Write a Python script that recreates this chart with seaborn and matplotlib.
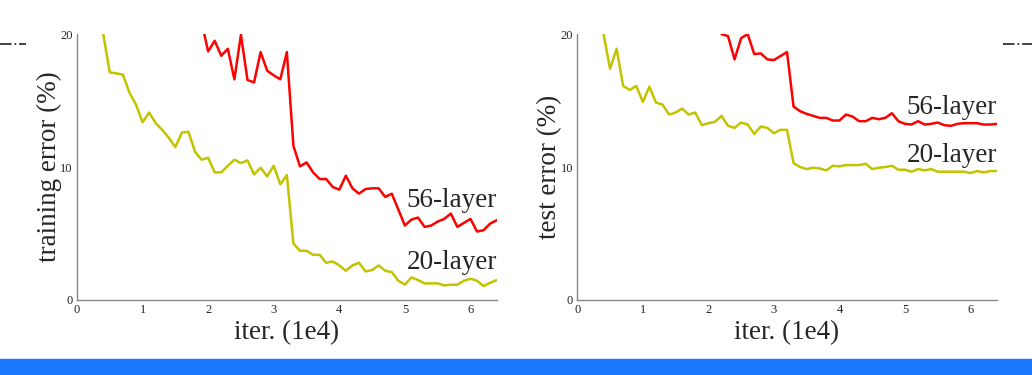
import numpy as np
import pandas as pd
import matplotlib
matplotlib.use("Agg")
import matplotlib.pyplot as plt
import seaborn as sns
from matplotlib.lines import Line2D
from matplotlib.patches import Rectangle

# Training error (%), one point every 1e3 iterations
train_x20 = np.round(np.arange(0.4, 6.41, 0.1), 1)
train_20 = [20.0, 17.12, 17.05, 16.95, 15.6, 14.7, 13.37, 14.1, 13.3, 12.8,
            12.2, 11.5, 12.6, 12.65, 11.15, 10.55, 10.7, 9.6, 9.6, 10.1,
            10.55, 10.3, 10.5, 9.45, 9.95, 9.3, 10.1, 8.7, 9.4, 4.25,
            3.7, 3.7, 3.4, 3.4, 2.8, 2.9, 2.6, 2.2, 2.6, 2.8,
            2.15, 2.25, 2.6, 2.2, 2.1, 1.45, 1.15, 1.7, 1.5, 1.25,
            1.25, 1.25, 1.1, 1.15, 1.15, 1.45, 1.6, 1.45, 1.05, 1.3, 1.5]
train_x56 = np.round(np.arange(1.9, 6.41, 0.1), 1)
train_56 = [20.9, 18.7, 19.5, 18.37, 18.9, 16.6, 19.95, 16.55, 16.37, 18.65,
            17.25, 16.9, 16.6, 18.65, 11.6, 10.05, 10.35, 9.6, 9.1, 9.1,
            8.5, 8.3, 9.35, 8.4, 8.0, 8.35, 8.4, 8.4, 7.75, 8.0,
            6.8, 5.6, 6.05, 6.2, 5.5, 5.6, 5.9, 6.1, 6.5, 5.5,
            5.8, 6.1, 5.15, 5.25, 5.75, 6.0]

# Test error (%)
test_x20 = np.round(np.arange(0.4, 6.41, 0.1), 1)
test_20 = [20.0, 17.4, 18.9, 16.1, 15.8, 16.1, 14.9, 16.05, 14.85, 14.7,
           13.95, 14.1, 14.4, 13.95, 14.1, 13.15, 13.3, 13.4, 13.85, 13.1,
           12.95, 13.35, 13.2, 12.5, 13.05, 12.95, 12.55, 12.8, 12.8, 10.3,
           10.0, 9.85, 9.95, 9.9, 9.75, 10.1, 10.05, 10.15, 10.15, 10.15,
           10.25, 9.85, 9.95, 10.0, 10.1, 9.8, 9.8, 9.65, 9.85, 9.75,
           9.85, 9.65, 9.65, 9.65, 9.65, 9.65, 9.55, 9.7, 9.6, 9.7, 9.7]
test_x56 = np.round(np.arange(2.2, 6.41, 0.1), 1)
test_56 = [20.0, 19.85, 18.1, 19.7, 20.0, 18.5, 18.55, 18.1, 18.05, 18.35,
           18.65, 14.55, 14.2, 14.0, 13.85, 13.7, 13.7, 13.5, 13.5, 13.95,
           13.8, 13.45, 13.45, 13.7, 13.6, 13.7, 14.05, 13.45, 13.25, 13.2,
           13.45, 13.2, 13.25, 13.35, 13.15, 13.1, 13.25, 13.3, 13.3, 13.3,
           13.2, 13.2, 13.25]

x_ticks = [0, 1, 2, 3, 4, 5, 6]
y_ticks = [0, 10, 20]
series_labels = ["20-layer", "56-layer"]

sns.set_style("white")
plt.rcParams["font.family"] = ["Liberation Serif", "DejaVu Serif"]

fig = plt.figure(figsize=(10.32, 3.75), dpi=100)
ax1 = fig.add_axes([0.0746, 0.2, 0.4067, 0.709])
ax2 = fig.add_axes([0.5594, 0.2, 0.4064, 0.709])

yellow = "#c3c300"
red = "#ff0000"

panels = [
    (ax1, train_x20, train_20, train_x56, train_56, "training error (%)", 2.8, 7.5),
    (ax2, test_x20, test_20, test_x56, test_56, "test error (%)", 10.9, 14.5),
]

for ax, x20, y20, x56, y56, ylab, lab20_y, lab56_y in panels:
    d20 = pd.DataFrame({"iter": x20, "err": y20})
    d56 = pd.DataFrame({"iter": x56, "err": y56})
    sns.lineplot(data=d20, x="iter", y="err", ax=ax, color=yellow, linewidth=1.8)
    sns.lineplot(data=d56, x="iter", y="err", ax=ax, color=red, linewidth=1.8)
    ax.set_xlim(0, 6.4)
    ax.set_ylim(0, 20)
    ax.set_xticks(x_ticks)
    ax.set_yticks(y_ticks)
    ax.tick_params(direction="in", length=3, width=0.8, color="#888888",
                   labelsize=9, pad=3)
    for side in ["top", "right"]:
        ax.spines[side].set_visible(False)
    for side in ["left", "bottom"]:
        ax.spines[side].set_color("#888888")
        ax.spines[side].set_linewidth(1.0)
    ax.set_xlabel("iter. (1e4)", fontsize=19.5, labelpad=3)
    ax.set_ylabel(ylab, fontsize=19.5, labelpad=-1)
    ax.text(6.4, lab56_y, series_labels[1], fontsize=19.5, ha="right", va="center")
    ax.text(6.4, lab20_y, series_labels[0], fontsize=19.5, ha="right", va="center")

# stray dash-dot marks at the top edges and the blue band at the bottom
fig.add_artist(Line2D([0.0, 0.025], [0.883, 0.883], transform=fig.transFigure,
                      color="#333333", linewidth=1.3, linestyle="-."))
fig.add_artist(Line2D([0.972, 1.0], [0.883, 0.883], transform=fig.transFigure,
                      color="#333333", linewidth=1.3, linestyle="-."))
fig.add_artist(Rectangle((0, 0), 1, 16 / 375, transform=fig.transFigure,
                         color="#1a78ff", zorder=10))

fig.savefig("out.png", dpi=100)
